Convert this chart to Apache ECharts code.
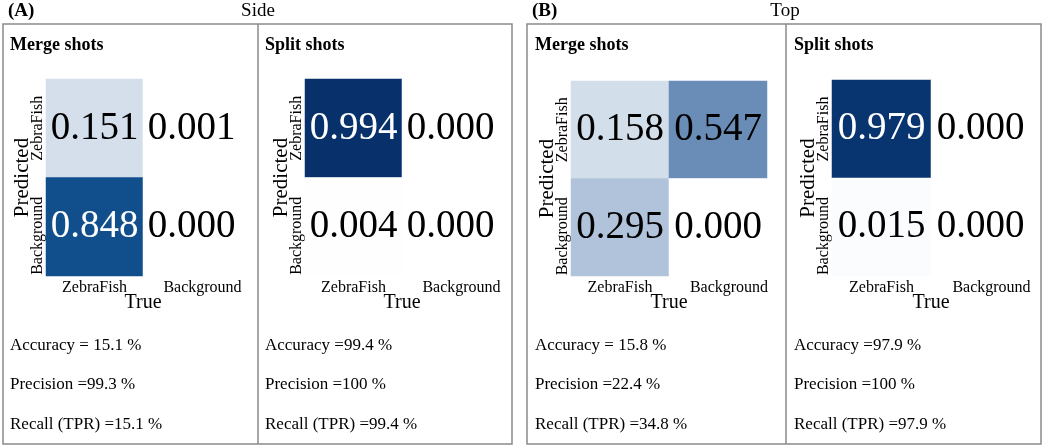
<!DOCTYPE html>
<html>
<head>
<meta charset="utf-8">
<script src="https://cdn.jsdelivr.net/npm/echarts@6/dist/echarts.min.js"></script>
<style>
  html, body { margin: 0; padding: 0; background: #fff; }
  #main { width: 1052px; height: 446px; }
</style>
</head>
<body>
<div id="main"></div>
<script>
var trueLabels = ['ZebraFish', 'Background'];
var predLabels = ['ZebraFish', 'Background'];

// rows = predicted, cols = true
var sideMerge = [[0.151, 0.001], [0.848, 0.000]];
var sideSplit = [[0.994, 0.000], [0.004, 0.000]];
var topMerge = [[0.158, 0.547], [0.295, 0.000]];
var topSplit = [[0.979, 0.000], [0.015, 0.000]];

var sideMergeStats = ['Accuracy = 15.1 %', 'Precision =99.3 %', 'Recall (TPR) =15.1 %'];
var sideSplitStats = ['Accuracy =99.4 %', 'Precision =100 %', 'Recall (TPR) =99.4 %'];
var topMergeStats = ['Accuracy = 15.8 %', 'Precision =22.4 %', 'Recall (TPR) =34.8 %'];
var topSplitStats = ['Accuracy =97.9 %', 'Precision =100 %', 'Recall (TPR) =97.9 %'];

var FONT = '"Liberation Serif", "Times New Roman", serif';

var myChart = echarts.init(document.getElementById('main'));

var panels = [
    { m: sideMerge, grid: { left: 46, top: 79, width: 194, height: 197 } },
    { m: sideSplit, grid: { left: 305, top: 79, width: 194, height: 197 } },
    { m: topMerge, grid: { left: 571, top: 81, width: 196, height: 195 } },
    { m: topSplit, grid: { left: 832, top: 80, width: 198, height: 196 } }
];

function cells(m) {
    var out = [];
    for (var r = 0; r < m.length; r++) {
        for (var c = 0; c < m[r].length; c++) {
            var v = m[r][c];
            out.push({ value: [c, r, v], label: { color: v > 0.7 ? '#fff' : '#000' } });
        }
    }
    return out;
}

var grids = [], xAxes = [], yAxes = [], series = [];
panels.forEach(function (p, i) {
    grids.push(p.grid);
    xAxes.push({
        type: 'category', gridIndex: i, data: trueLabels,
        axisLine: { show: false }, axisTick: { show: false }, splitLine: { show: false },
        axisLabel: {
            interval: 0, hideOverlap: false,
            margin: 4, fontSize: 16, fontFamily: FONT, color: '#000',
            formatter: function (v, idx) { return idx === 1 ? '{b|' + v + '}' : v; },
            rich: { b: { fontSize: 16, fontFamily: FONT, color: '#000', padding: [0, 0, 0, 22] } }
        },
        name: 'True', nameLocation: 'middle', nameGap: 17, nameMoveOverlap: false,
        nameTextStyle: { fontSize: 20, fontFamily: FONT, color: '#000' }
    });
    yAxes.push({
        type: 'category', gridIndex: i, data: predLabels, inverse: true,
        axisLine: { show: false }, axisTick: { show: false }, splitLine: { show: false },
        axisLabel: {
            interval: 0, hideOverlap: false, rotate: 90, margin: 0,
            fontSize: 16, fontFamily: FONT, color: '#000',
            formatter: function (v, idx) { return idx === 1 ? '{b|' + v + '}' : v; },
            rich: { b: { fontSize: 16, fontFamily: FONT, color: '#000', padding: [0, 18, 0, 0] } }
        },
        name: 'Predicted', nameLocation: 'middle', nameGap: 13, nameMoveOverlap: false,
        nameTextStyle: { fontSize: 21, fontFamily: FONT, color: '#000' }
    });
    series.push({
        type: 'heatmap', xAxisIndex: i, yAxisIndex: i,
        data: cells(p.m),
        label: {
            show: true, fontSize: 39, fontFamily: FONT,
            formatter: function (d) { return d.value[2].toFixed(3); }
        },
        emphasis: { disabled: true },
        itemStyle: { borderWidth: 0 }
    });
});

function statTexts(stats, x) {
    var ys = [347, 386, 426];
    return stats.map(function (s, k) {
        return { type: 'text', left: x, top: ys[k] - 10,
            style: { text: s, font: '17px ' + FONT, fill: '#000' } };
    });
}

var boxStyle = { fill: 'none', stroke: '#8a8a8a', lineWidth: 1.5 };
var graphic = [
    { type: 'rect', shape: { x: 3, y: 24, width: 509, height: 420 }, style: boxStyle },
    { type: 'line', shape: { x1: 258, y1: 24, x2: 258, y2: 444 }, style: boxStyle },
    { type: 'rect', shape: { x: 527, y: 24, width: 514, height: 420 }, style: boxStyle },
    { type: 'line', shape: { x1: 786, y1: 24, x2: 786, y2: 444 }, style: boxStyle },
    { type: 'text', left: 8, top: 2, style: { text: '(A)', font: 'bold 19px ' + FONT, fill: '#000' } },
    { type: 'text', x: 258, y: 2, style: { text: 'Side', font: '19px ' + FONT, fill: '#000', textAlign: 'center' } },
    { type: 'text', left: 532, top: 2, style: { text: '(B)', font: 'bold 19px ' + FONT, fill: '#000' } },
    { type: 'text', x: 785, y: 2, style: { text: 'Top', font: '19px ' + FONT, fill: '#000', textAlign: 'center' } },
    { type: 'text', left: 10, top: 36, style: { text: 'Merge shots', font: 'bold 18px ' + FONT, fill: '#000' } },
    { type: 'text', left: 265, top: 36, style: { text: 'Split shots', font: 'bold 18px ' + FONT, fill: '#000' } },
    { type: 'text', left: 535, top: 36, style: { text: 'Merge shots', font: 'bold 18px ' + FONT, fill: '#000' } },
    { type: 'text', left: 794, top: 36, style: { text: 'Split shots', font: 'bold 18px ' + FONT, fill: '#000' } }
].concat(statTexts(sideMergeStats, 10), statTexts(sideSplitStats, 265),
         statTexts(topMergeStats, 535), statTexts(topSplitStats, 794));

var option = {
    backgroundColor: '#fff',
    animation: false,
    grid: grids,
    xAxis: xAxes,
    yAxis: yAxes,
    visualMap: {
        show: false, min: 0, max: 1, seriesIndex: [0, 1, 2, 3],
        inRange: {
            color: ['#ffffff', '#e3eaf3', '#c8d5e5', '#afc2d9', '#94adcb', '#7898bf',
                    '#5b80ad', '#3a6a9f', '#185895', '#0a4483', '#08306b']
        }
    },
    series: series,
    graphic: graphic
};
myChart.setOption(option);
</script>
</body>
</html>
